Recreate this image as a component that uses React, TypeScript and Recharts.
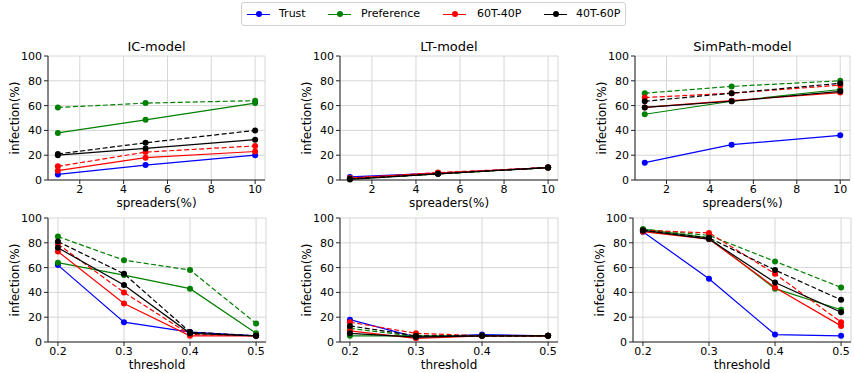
import React from 'react';
import { LineChart, Line, XAxis, YAxis, CartesianGrid } from 'recharts';

// x values
const spreaders = [1, 5, 10];
const thresholds = [0.2, 0.3, 0.4, 0.5];
const spreaderTicks = [2, 4, 6, 8, 10];
const yTicks = [0, 20, 40, 60, 80, 100];

// IC-model vs spreaders(%)
const icSprTrust = [4.5, 12, 20];
const icSprPref = [38, 48.5, 62];
const icSprPrefD = [58.5, 62, 64];
const icSpr6040 = [7.5, 18, 23];
const icSpr6040D = [11, 22.5, 27.5];
const icSpr4060 = [20, 25.5, 32.5];
const icSpr4060D = [21, 30, 40];

// LT-model vs spreaders(%)
const ltSprTrust = [2.5, 5.5, 10];
const ltSprPref = [1, 5, 10];
const ltSprPrefD = [1, 5, 10];
const ltSpr6040 = [1.5, 5.5, 10];
const ltSpr6040D = [1.5, 6, 10];
const ltSpr4060 = [0.5, 5, 10];
const ltSpr4060D = [1, 5, 10];

// SimPath-model vs spreaders(%)
const spSprTrust = [14, 28.5, 36];
const spSprPref = [53, 63.5, 73];
const spSprPrefD = [70, 75.5, 80];
const spSpr6040 = [58.5, 64, 70.5];
const spSpr6040D = [66.5, 70, 76.5];
const spSpr4060 = [58.5, 63.5, 71.5];
const spSpr4060D = [63.5, 70, 78];

// IC-model vs threshold
const icThrTrust = [62, 16, 8, 5];
const icThrPref = [64, 54, 43, 7];
const icThrPrefD = [85, 66, 58, 15];
const icThr6040 = [73, 31, 5, 5];
const icThr6040D = [79, 40, 6, 5];
const icThr4060 = [76, 46, 7, 5];
const icThr4060D = [81, 55, 8, 5];

// LT-model vs threshold
const ltThrTrust = [18, 4, 6, 5];
const ltThrPref = [5, 5, 5, 5];
const ltThrPrefD = [11, 4.5, 5, 5];
const ltThr6040 = [9, 3, 5, 5];
const ltThr6040D = [16, 7, 5, 5];
const ltThr4060 = [7, 4, 5, 5];
const ltThr4060D = [13, 5, 5, 5];

// SimPath-model vs threshold
const spThrTrust = [89, 51, 6, 5];
const spThrPref = [91, 84, 43, 26];
const spThrPrefD = [91, 86, 65, 44];
const spThr6040 = [89, 83, 44, 13];
const spThr6040D = [90, 88, 55, 16];
const spThr4060 = [90, 83, 48, 24];
const spThr4060D = [90, 84, 58, 34];

const series = [
  { key: 'trust', color: '#0000ff', dash: false },
  { key: 'pref', color: '#008000', dash: false },
  { key: 'prefD', color: '#008000', dash: true },
  { key: 't6040', color: '#ff0000', dash: false },
  { key: 't6040D', color: '#ff0000', dash: true },
  { key: 't4060', color: '#000000', dash: false },
  { key: 't4060D', color: '#000000', dash: true },
];

const legendItems = [
  { name: 'Trust', color: '#0000ff', line: 5, text: 37 },
  { name: 'Preference', color: '#008000', line: 86, text: 119 },
  { name: '60T-40P', color: '#ff0000', line: 201, text: 235 },
  { name: '40T-60P', color: '#000000', line: 302, text: 334 },
];

const FONT = '"DejaVu Sans", sans-serif';

function build(xs: number[], cols: number[][]) {
  return xs.map((x, i) => {
    const row: any = { x };
    series.forEach((s, j) => (row[s.key] = cols[j][i]));
    return row;
  });
}

function Panel(props: {
  left: number; top: number; w: number; h: number;
  title?: string; xlabel: string; data: any[]; thr: boolean;
}) {
  const { left, top, w, h, title, xlabel, data, thr } = props;
  const tickStyle = { fontSize: 11, fill: '#000', fontFamily: FONT };
  return (
    <>
      {title && (
        <div style={{ position: 'absolute', left: left + w / 2, top: top - 16, transform: 'translateX(-50%)',
          fontSize: 13, lineHeight: '14px', fontFamily: FONT, whiteSpace: 'nowrap' }}>{title}</div>
      )}
      <div style={{ position: 'absolute', left: left + w / 2, top: top + h + 16, transform: 'translateX(-50%)',
        fontSize: 12, lineHeight: '14px', fontFamily: FONT, whiteSpace: 'nowrap' }}>{xlabel}</div>
      <div style={{ position: 'absolute', left: left - 33, top: top + h / 2, transform: 'translate(-50%,-50%) rotate(-90deg)',
        fontSize: 12, lineHeight: '14px', fontFamily: FONT, whiteSpace: 'nowrap' }}>infection(%)</div>
      <div style={{ position: 'absolute', left: left - 48, top: top - 10 }}>
        <LineChart width={w + 53} height={h + 30} data={data} margin={{ top: 10, right: 5, bottom: 0, left: 0 }}>
          <CartesianGrid stroke="#d6d6d6" fill="none" />
          <XAxis dataKey="x" type="number" domain={thr ? [0.185, 0.515] : [0.55, 10.45]}
            ticks={thr ? thresholds : spreaderTicks} allowDataOverflow height={20}
            tickFormatter={(v: number) => (thr ? v.toFixed(1) : String(v))}
            tick={tickStyle} tickSize={4} tickMargin={1}
            axisLine={{ stroke: '#222' }} tickLine={{ stroke: '#222' }} />
          <XAxis xAxisId="top" orientation="top" dataKey="x" type="number" height={0}
            domain={thr ? [0.185, 0.515] : [0.55, 10.45]} tick={false} tickLine={false}
            axisLine={{ stroke: '#222' }} />
          <YAxis domain={[0, 100]} ticks={yTicks} width={48} tick={tickStyle} tickSize={4} tickMargin={2}
            axisLine={{ stroke: '#222' }} tickLine={{ stroke: '#222' }} />
          <YAxis yAxisId="right" orientation="right" width={0} domain={[0, 100]} tick={false}
            tickLine={false} axisLine={{ stroke: '#222' }} />
          {series.map((s) => (
            <Line key={s.key} dataKey={s.key} stroke={s.color} strokeWidth={1.2}
              strokeDasharray={s.dash ? '5 2.5' : undefined}
              dot={{ r: 3, fill: s.color, stroke: 'none' }} activeDot={false}
              isAnimationActive={false} />
          ))}
        </LineChart>
      </div>
    </>
  );
}

export default function App() {
  return (
    <div style={{ position: 'absolute', left: 0, top: 0, width: 854, height: 373, background: '#fff', overflow: 'hidden' }}>
      <div style={{ position: 'absolute', left: 241, top: 2, width: 385, height: 24, border: '1px solid #d0d0d0',
        borderRadius: 3, boxSizing: 'border-box', fontFamily: FONT, fontSize: 11 }}>
        {legendItems.map((it) => (
          <React.Fragment key={it.name}>
            <div style={{ position: 'absolute', left: it.line, top: 10.5, width: 23, height: 1.4, background: it.color }} />
            <div style={{ position: 'absolute', left: it.line + 8.5, top: 8, width: 6, height: 6, borderRadius: 3, background: it.color }} />
            <div style={{ position: 'absolute', left: it.text, top: 4, lineHeight: '13px', whiteSpace: 'nowrap' }}>{it.name}</div>
          </React.Fragment>
        ))}
      </div>

      <Panel left={48} top={56} w={217} h={124} title="IC-model" xlabel="spreaders(%)" thr={false}
        data={build(spreaders, [icSprTrust, icSprPref, icSprPrefD, icSpr6040, icSpr6040D, icSpr4060, icSpr4060D])} />
      <Panel left={340} top={56} w={218} h={124} title="LT-model" xlabel="spreaders(%)" thr={false}
        data={build(spreaders, [ltSprTrust, ltSprPref, ltSprPrefD, ltSpr6040, ltSpr6040D, ltSpr4060, ltSpr4060D])} />
      <Panel left={635} top={56} w={215} h={124} title="SimPath-model" xlabel="spreaders(%)" thr={false}
        data={build(spreaders, [spSprTrust, spSprPref, spSprPrefD, spSpr6040, spSpr6040D, spSpr4060, spSpr4060D])} />

      <Panel left={48} top={218} w={218} h={124} xlabel="threshold" thr
        data={build(thresholds, [icThrTrust, icThrPref, icThrPrefD, icThr6040, icThr6040D, icThr4060, icThr4060D])} />
      <Panel left={340} top={218} w={218} h={124} xlabel="threshold" thr
        data={build(thresholds, [ltThrTrust, ltThrPref, ltThrPrefD, ltThr6040, ltThr6040D, ltThr4060, ltThr4060D])} />
      <Panel left={633} top={218} w={218} h={124} xlabel="threshold" thr
        data={build(thresholds, [spThrTrust, spThrPref, spThrPrefD, spThr6040, spThr6040D, spThr4060, spThr4060D])} />
    </div>
  );
}
